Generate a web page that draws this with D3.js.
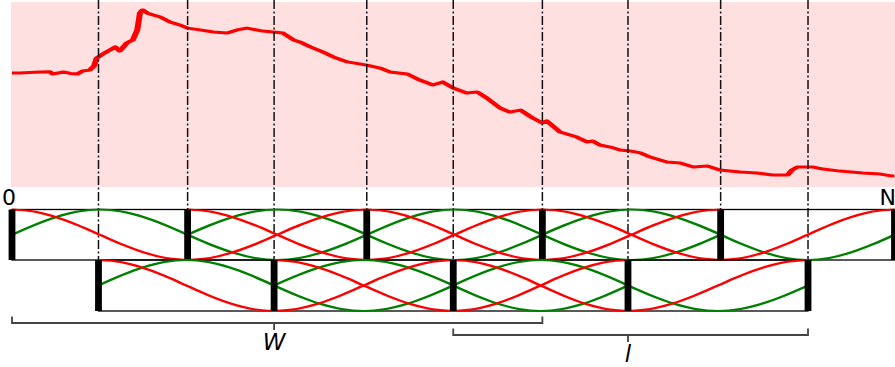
<!DOCTYPE html>
<html>
<head>
<meta charset="utf-8">
<script src="https://cdn.jsdelivr.net/npm/d3@7"></script>
<style>
  html, body { margin: 0; padding: 0; background: #fff; }
  svg { display: block; font-family: "DejaVu Sans", sans-serif; }
</style>
</head>
<body>
<svg id="chart" width="895" height="367"></svg>
<script>
// sample axis 0..N
const N = 1000;

// frame edges in samples
const edges = [0, 98, 199, 297, 402, 500, 601, 698, 803, 902, 1000];

// the signal on top: sample index / level
const sigX = [0, 9, 20, 32, 43, 46, 52, 58, 66, 74, 80, 88, 93, 96, 103, 111, 117, 122, 130, 137,
  142, 145, 148, 153, 160, 168, 179, 190, 199, 213, 228, 244, 255, 266, 284, 296, 307, 319, 326, 338,
  352, 364, 380, 402, 417, 428, 448, 462, 477, 488, 500, 515, 527, 538, 553, 564, 576, 590, 601, 606,
  621, 640, 652, 658, 666, 678, 689, 700, 712, 723, 742, 757, 772, 788, 802, 825, 844, 862, 879, 884,
  890, 908, 919, 938, 964, 984, 998, 1000];
const sigY = [61.6, 61.6, 61.9, 62.2, 62.3, 61.1, 61.6, 62.2, 61.4, 61.1, 62.7, 63.2, 65.4, 69.7, 71.9, 74.1, 75.7, 73.5, 77.8, 79.5,
  84.9, 94.1, 95.7, 94.1, 93.0, 91.9, 89.2, 87.6, 85.9, 84.9, 83.8, 83.2, 84.9, 85.9, 84.3, 83.8, 83.2, 79.5, 78.4, 75.7,
  73.0, 70.3, 67.6, 65.9, 64.3, 62.2, 61.1, 57.8, 55.1, 56.8, 53.5, 50.8, 51.4, 48.1, 42.7, 40.5, 41.6, 37.3, 34.6, 35.7,
  29.7, 27.0, 24.3, 24.9, 22.7, 21.6, 20.0, 19.5, 18.4, 16.2, 13.5, 13.0, 10.8, 11.4, 9.2, 8.1, 7.6, 6.5, 6.5, 9.2,
  10.8, 10.8, 9.7, 8.6, 7.6, 7.0, 5.9, 5.9];

// window shapes inside one frame, read at t = 0, 1/8 ... 1
const shapeT = [0, 0.125, 0.25, 0.375, 0.5, 0.625, 0.75, 0.875, 1];
const fallVals = [1, 0.96, 0.85, 0.69, 0.5, 0.31, 0.15, 0.04, 0];
const bumpVals = [0.5, 0.69, 0.85, 0.96, 1, 0.96, 0.85, 0.69, 0.5];

// frames per row: [first edge, last edge, kind]
const topFrames = [[0, 2, "first"], [2, 4, "mid"], [4, 6, "mid"], [6, 8, "mid"], [8, 10, "last"]];
const botFrames = [[1, 3, "first"], [3, 5, "mid"], [5, 7, "mid"], [7, 9, "last"]];

const endLabels = ["0", "N"];
const bracketEdges = [[0, 3, 6], [5, 7, 9]];
const bracketLabels = ["W", "l"];

const svg = d3.select("#chart");
const x = d3.scaleLinear().domain([0, N]).range([12, 894.5]);

// strokes drawn in a y-squashed frame, so steep parts look heavier
const k = 0.5;

// ---- signal panel
const sig = sigX.map((s, i) => [s, sigY[i]]);
const ySig = d3.scaleLinear().domain([0, 100]).range([187 / k, 2 / k]);

svg.append("rect")
    .attr("x", x(0) - 1).attr("y", 2)
    .attr("width", x(N) - x(0) + 2).attr("height", 185)
    .attr("fill", "#ffe0e0");

svg.append("g")
    .attr("transform", `scale(1,${k})`)
    .append("path")
    .datum(sig)
    .attr("d", d3.line().x(d => x(d[0])).y(d => ySig(d[1])))
    .attr("fill", "none")
    .attr("stroke", "#ff0000")
    .attr("stroke-width", 6)
    .attr("stroke-linejoin", "round");

// ---- frame rows
const rows = [
    { frames: topFrames, top: 209.5, bottom: 260 },
    { frames: botFrames, top: 260, bottom: 311 }
];

// dash-dot frame markers
edges.forEach((e, i) => {
    if (i === 0 || i === edges.length - 1) return;
    svg.append("line")
        .attr("x1", x(e)).attr("x2", x(e))
        .attr("y1", 0).attr("y2", i % 2 ? rows[1].top : rows[0].top)
        .attr("stroke", "#111")
        .attr("stroke-width", 1.5)
        .attr("stroke-dasharray", "9,2.5,2,2.5");
});

const fall = shapeT.map((t, i) => [t, fallVals[i]]);
const rise = shapeT.map((t, i) => [t, fallVals[fallVals.length - 1 - i]]);
const bump = shapeT.map((t, i) => [t, bumpVals[i]]);
const dip = shapeT.map((t, i) => [t, 1 - bumpVals[i]]);
const kinds = {
    first: [[bump, "#008000"], [fall, "#ff0000"]],
    mid: [[bump, "#008000"], [dip, "#008000"], [fall, "#ff0000"], [rise, "#ff0000"]],
    last: [[dip, "#008000"], [rise, "#ff0000"]]
};

rows.forEach(row => {
    const yc = d3.scaleLinear().domain([0, 1]).range([row.bottom / k, row.top / k]);
    const g = svg.append("g");

    g.selectAll("rect.box")
        .data(row.frames)
        .join("rect")
        .attr("class", "box")
        .attr("x", d => x(edges[d[0]]))
        .attr("y", row.top)
        .attr("width", d => x(edges[d[1]]) - x(edges[d[0]]))
        .attr("height", row.bottom - row.top)
        .attr("fill", "none")
        .attr("stroke", "#000")
        .attr("stroke-width", 1.3);

    const cg = g.append("g").attr("transform", `scale(1,${k})`);
    row.frames.forEach(f => {
        const a = edges[f[0]], b = edges[f[1]];
        const line = d3.line()
            .x(d => x(a + d[0] * (b - a)))
            .y(d => yc(d[1]))
            .curve(d3.curveMonotoneX);
        kinds[f[2]].forEach(([pts, col]) => {
            cg.append("path")
                .attr("d", line(pts))
                .attr("fill", "none")
                .attr("stroke", col)
                .attr("stroke-width", 4);
        });
    });

    const barEdges = [row.frames[0][0]].concat(row.frames.map(f => f[1]));
    g.selectAll("rect.bar")
        .data(barEdges)
        .join("rect")
        .attr("class", "bar")
        .attr("x", d => x(edges[d]) - 3.4)
        .attr("y", row.top)
        .attr("width", 6.8)
        .attr("height", row.bottom - row.top)
        .attr("fill", "#000");
});

// ---- end labels
svg.selectAll("text.end")
    .data(endLabels)
    .join("text")
    .attr("class", "end")
    .attr("x", (d, i) => i ? 896 : x(0) - 3)
    .attr("y", 205)
    .attr("text-anchor", (d, i) => i ? "end" : "middle")
    .attr("font-size", 22)
    .text(d => d);

// ---- brackets
const bracketY = [323, 335];
bracketEdges.forEach((b, i) => {
    const y0 = bracketY[i];
    const x0 = x(edges[b[0]]), xm = x(edges[b[1]]), x1 = x(edges[b[2]]);
    svg.append("path")
        .attr("d", `M${x0},${y0 - 6.5}V${y0}H${x1}V${y0 - 6.5}M${xm},${y0}V${y0 + 7}`)
        .attr("fill", "none")
        .attr("stroke", "#444")
        .attr("stroke-width", 1.8);
    svg.append("text")
        .attr("x", xm)
        .attr("y", y0 + 27)
        .attr("text-anchor", "middle")
        .attr("font-size", 23)
        .attr("font-style", "italic")
        .text(bracketLabels[i]);
});
</script>
</body>
</html>
